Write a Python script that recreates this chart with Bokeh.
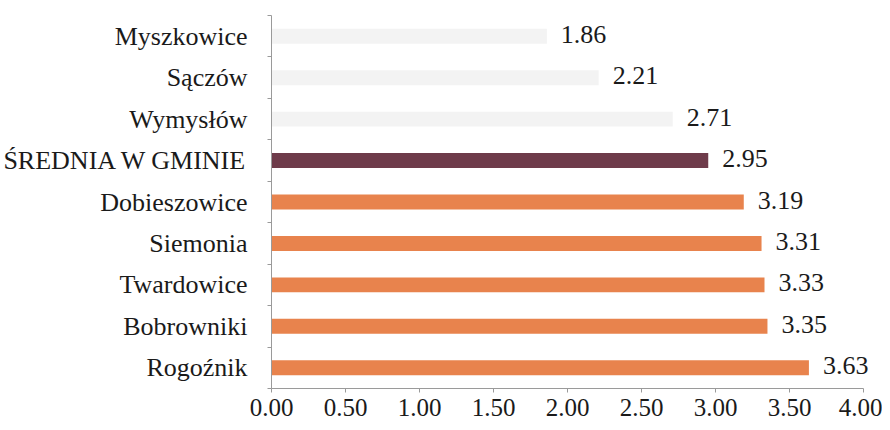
from bokeh.plotting import figure
from bokeh.models import FixedTicker, Range1d, ColumnDataSource, NumeralTickFormatter, LabelSet
from bokeh.embed import file_html
from bokeh.resources import INLINE

# Data (top to bottom as in the chart)
categories = ["Myszkowice", "Sączów", "Wymysłów", "ŚREDNIA W GMINIE",
              "Dobieszowice", "Siemonia", "Twardowice", "Bobrowniki", "Rogoźnik"]
values = [1.86, 2.21, 2.71, 2.95, 3.19, 3.31, 3.33, 3.35, 3.63]
colors = ["#F3F3F3", "#F3F3F3", "#F3F3F3", "#6E3B4A",
          "#E8834D", "#E8834D", "#E8834D", "#E8834D", "#E8834D"]
x_ticks = [0, 0.5, 1.0, 1.5, 2.0, 2.5, 3.0, 3.5, 4.0]

n = len(categories)
# bottom category at position 0.5, top at n-0.5
ypos = [n - 0.5 - i for i in range(n)]
labels = ["%.2f" % v for v in values]

src = ColumnDataSource(dict(y=ypos, v=values, c=colors, lab=labels))

FONT = "Liberation Serif"
FS = "26px"

p = figure(width=882, height=422, output_backend="svg", toolbar_location=None,
           x_range=Range1d(0, 4.1), y_range=Range1d(0, n),
           min_border_left=270, min_border_right=4, min_border_top=15,
           min_border_bottom=34)
p.outline_line_color = None
p.xgrid.grid_line_color = None
p.ygrid.grid_line_color = None

p.hbar(y="y", right="v", left=0, height=0.36, fill_color="c", line_color=None, source=src)
p.add_layout(LabelSet(x="v", y="y", text="lab", source=src, x_offset=14, y_offset=2,
                      text_baseline="middle", text_align="left",
                      text_font=FONT, text_font_size=FS, text_color="#1a1a1a"))

# X axis
p.xaxis.bounds = (0, 4)
p.xaxis.ticker = FixedTicker(ticks=x_ticks)
p.xaxis.formatter = NumeralTickFormatter(format="0.00")
p.xaxis.major_label_text_font = FONT
p.xaxis.major_label_text_font_size = "25px"
p.xaxis.major_label_text_color = "#1a1a1a"
p.xaxis.axis_line_color = "#9a9a9a"
p.xaxis.major_tick_line_color = "#9a9a9a"
p.xaxis.major_tick_in = 0
p.xaxis.major_tick_out = 4
p.xaxis.minor_tick_line_color = None
p.xaxis.major_label_standoff = 6

# Y axis: labels at category centres, small ticks at boundaries
p.yaxis.ticker = FixedTicker(ticks=ypos, minor_ticks=list(range(n + 1)))
p.yaxis.major_label_overrides = {y: c for y, c in zip(ypos, categories)}
p.yaxis.major_label_text_font = FONT
p.yaxis.major_label_text_font_size = FS
p.yaxis.major_label_text_color = "#1a1a1a"
p.yaxis.axis_line_color = "#9a9a9a"
p.yaxis.major_tick_line_color = None
p.yaxis.minor_tick_line_color = "#9a9a9a"
p.yaxis.minor_tick_in = 0
p.yaxis.minor_tick_out = 4
p.yaxis.major_label_standoff = 18

open("out.html", "w").write(file_html(p, INLINE))
